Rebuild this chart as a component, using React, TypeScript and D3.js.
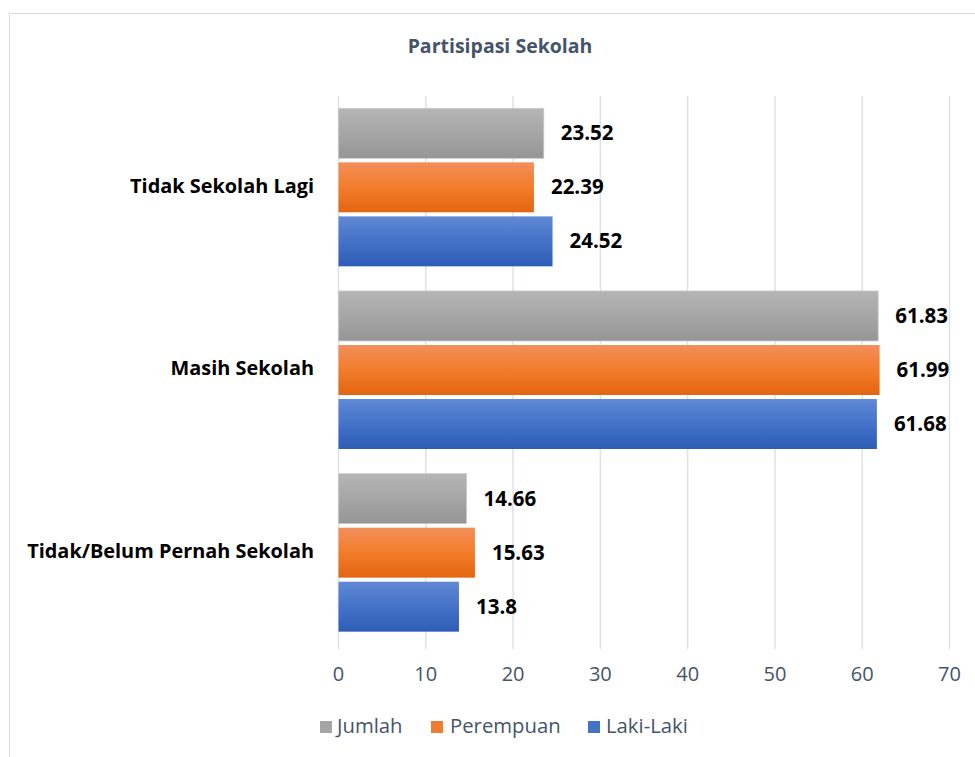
import React from "react";
import * as d3 from "d3";

const categories = ["Tidak Sekolah Lagi", "Masih Sekolah", "Tidak/Belum Pernah Sekolah"];
const seriesNames = ["Jumlah", "Perempuan", "Laki-Laki"];
const jumlah = [23.52, 61.83, 14.66];
const perempuan = [22.39, 61.99, 15.63];
const lakiLaki = [24.52, 61.68, 13.8];
const xTicks = [0, 10, 20, 30, 40, 50, 60, 70];
const labels = [
  ["23.52", "61.83", "14.66"],
  ["22.39", "61.99", "15.63"],
  ["24.52", "61.68", "13.8"],
];

const W = 975;
const H = 757;
const FONT = "'Open Sans', 'Noto Sans', sans-serif";
const TEXT = "#44546a";

const gradients = [
  { id: "gGray", stops: ["#b5b5b5", "#a6a6a6", "#959595"] },
  { id: "gOrange", stops: ["#f28f5a", "#f37c2a", "#e3650f"] },
  { id: "gBlue", stops: ["#6089d4", "#4472c8", "#2e5db6"] },
];
const legendColors = ["#a5a5a5", "#ed7d31", "#4472c4"];

export default function App() {
  const series = [jumlah, perempuan, lakiLaki];
  const x = d3.scaleLinear().domain([0, 70]).range([338.5, 949.5]);
  const y = d3.scaleBand<string>().domain(categories).range([96, 644]).paddingInner(0).paddingOuter(0);
  const groupH = 158;
  const inner = d3
    .scaleBand<string>()
    .domain(seriesNames)
    .range([0, groupH])
    .paddingInner(0.075)
    .paddingOuter(0);
  const bw = y.bandwidth();

  const legendItems = [
    { name: "Jumlah", sx: 320, tx: 337 },
    { name: "Perempuan", sx: 431, tx: 450 },
    { name: "Laki-Laki", sx: 588, tx: 606 },
  ];

  return (
    <svg width={W} height={H} style={{ position: "absolute", left: 0, top: 0 }}>
      <defs>
        {gradients.map((g) => (
          <linearGradient key={g.id} id={g.id} x1="0" y1="0" x2="0" y2="1">
            <stop offset="0" stopColor={g.stops[0]} />
            <stop offset="0.5" stopColor={g.stops[1]} />
            <stop offset="1" stopColor={g.stops[2]} />
          </linearGradient>
        ))}
      </defs>
      <rect x={0} y={0} width={W} height={H} fill="#fff" />
      <rect x={9.5} y={13.5} width={1000} height={800} fill="#fff" stroke="#d9d9d9" strokeWidth={1} />

      <text x={500} y={48} textAnchor="middle" dominantBaseline="middle" fontFamily={FONT} fontWeight={700} fontSize={19.5} fill={TEXT}>
        Partisipasi Sekolah
      </text>

      {xTicks.map((t) => (
        <line key={"g" + t} x1={x(t)} x2={x(t)} y1={96} y2={649} stroke="#dce1e9" strokeWidth={1.5} />
      ))}

      {categories.map((c, ci) => {
        const g0 = (y(c) as number) + (bw - groupH) / 2;
        return (
          <g key={c}>
            {series.map((s, si) => {
              const yy = g0 + (inner(seriesNames[si]) as number);
              const h = inner.bandwidth();
              return (
                <g key={si}>
                  <rect
                    x={x(0)}
                    y={yy}
                    width={x(s[ci]) - x(0)}
                    height={h}
                    fill={`url(#${gradients[si].id})`}
                    stroke={si === 0 ? "#c9c9c9" : "none"}
                    strokeWidth={si === 0 ? 0.8 : 0}
                  />
                  <text
                    x={x(s[ci]) + 17}
                    y={yy + h / 2 + 1.5}
                    dominantBaseline="middle"
                    fontFamily={FONT}
                    fontWeight={700}
                    fontSize={20.5}
                    fill="#000"
                  >
                    {labels[si][ci]}
                  </text>
                </g>
              );
            })}
            <text
              x={314}
              y={(y(c) as number) + bw / 2}
              textAnchor="end"
              dominantBaseline="middle"
              fontFamily={FONT}
              fontWeight={700}
              fontSize={19.9}
              fill="#000"
            >
              {c}
            </text>
          </g>
        );
      })}

      {xTicks.map((t) => (
        <text key={"t" + t} x={x(t)} y={676} textAnchor="middle" dominantBaseline="middle" fontFamily={FONT} fontSize={20} fill={TEXT}>
          {t}
        </text>
      ))}

      {legendItems.map((l, i) => (
        <g key={l.name}>
          <rect x={l.sx} y={721} width={12} height={12} fill={legendColors[i]} />
          <text x={l.tx} y={728} dominantBaseline="middle" fontFamily={FONT} fontSize={20.3} fill={TEXT}>
            {l.name}
          </text>
        </g>
      ))}
    </svg>
  );
}
